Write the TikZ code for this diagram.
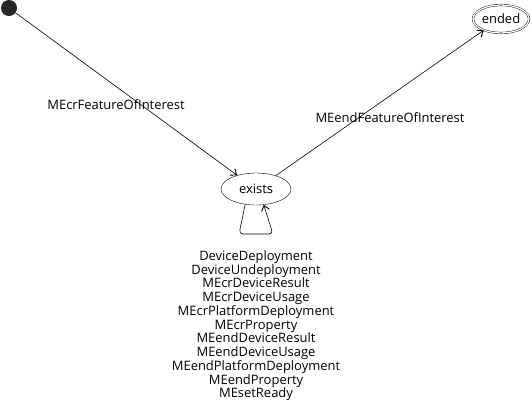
\documentclass[tikz,border=0pt]{standalone}
\usepackage{fontspec}
\setmainfont{Open Sans}
\usetikzlibrary{shapes.geometric,arrows.meta}
\begin{document}
\begin{tikzpicture}[x=1bp,y=-1bp,
  every node/.style={font=\fontsize{13}{13.8}\selectfont},
  state/.style={draw,ellipse,inner sep=0pt},
  trans/.style={draw,line width=0.6bp,-{Straight Barb[length=5bp,width=8bp,line width=0.9bp]}}]
\useasboundingbox[fill=white] (0,0) rectangle (532,403);
\node[circle,fill=black!85,minimum size=16bp,inner sep=0pt] (init) at (9,8) {};
\node[state,minimum width=70bp,minimum height=32bp] (exists) at (256,189) {exists};
\node[state,double,double distance=1.3bp,minimum width=56bp,minimum height=28bp] (ended) at (501,19) {ended};
\coordinate (lb) at (239,234);
\coordinate (rb) at (273,234);
\draw[trans] (init) -- (exists.144);
\draw[trans] (exists.34) -- (ended.213);
\draw[trans,rounded corners=4bp] (exists.235) -- (lb) -- (rb) -- (exists.296);
\node (l1) at (116,105) {MEcrFeatureOfInterest};
\node (l2) at (390,118) {MEendFeatureOfInterest};
\node[align=center,anchor=north] (l3) at (256,247) {DeviceDeployment\\DeviceUndeployment\\MEcrDeviceResult\\MEcrDeviceUsage\\MEcrPlatformDeployment\\MEcrProperty\\MEendDeviceResult\\MEendDeviceUsage\\MEendPlatformDeployment\\MEendProperty\\MEsetReady};
\end{tikzpicture}
\end{document}
